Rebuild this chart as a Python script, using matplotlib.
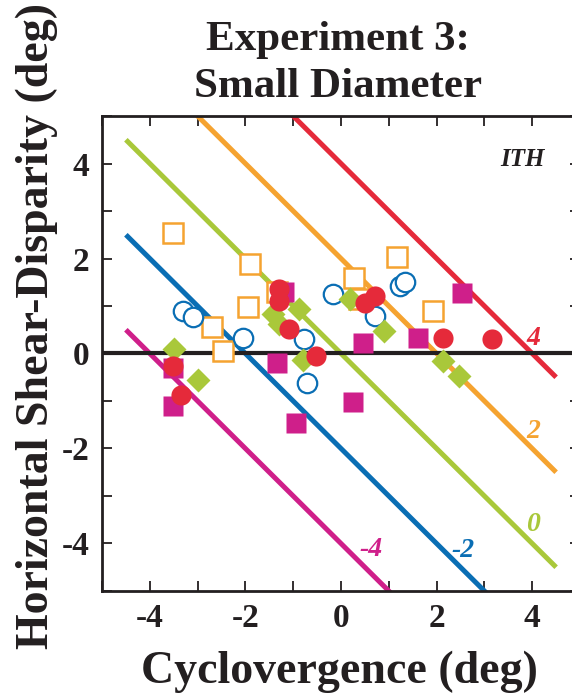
import matplotlib
matplotlib.use("Agg")
import matplotlib.pyplot as plt
from matplotlib.ticker import MultipleLocator

plt.rcParams['font.family'] = ['Liberation Serif', 'DejaVu Serif']
plt.rcParams['font.weight'] = 'bold'

# iso-torsion lines: y = c - x
line_levels = [-4, -2, 0, 2, 4]
line_colors = ['#cf1f8a', '#0a6eb4', '#a9c83a', '#f5a330', '#e52a3a']
line_label_x = [0.62, 2.56, 4.02, 4.02, 4.03]
line_label_y = [-4.13, -4.15, -3.60, -1.65, 0.31]

# data (deg)
orange_x = [-3.52, -1.91, -1.95, -2.70, -2.47, -1.33, 0.28, 0.37, 1.18, 1.93]
orange_y = [2.53, 1.88, 0.98, 0.56, 0.06, 1.30, 1.59, 1.15, 2.03, 0.90]

blue_x = [-3.31, -3.10, -2.06, -0.78, -0.72, -0.16, 0.72, 1.24, 1.33]
blue_y = [0.90, 0.77, 0.33, 0.31, -0.63, 1.25, 0.79, 1.42, 1.50]

green_x = [-3.50, -3.00, -1.43, -1.30, -0.87, -0.80, 0.18, 0.89, 2.14, 2.47]
green_y = [0.10, -0.56, 0.84, 0.63, 0.94, -0.13, 1.15, 0.48, -0.15, -0.48]

magenta_x = [-3.52, -3.52, -1.20, -1.33, -0.95, 0.26, 0.47, 1.62, 2.54]
magenta_y = [-0.31, -1.11, 1.29, -0.19, -1.46, -1.02, 0.23, 0.33, 1.27]

red_x = [-3.52, -3.35, -1.30, -1.30, -1.08, -0.53, 0.51, 0.72, 2.14, 3.16]
red_y = [-0.27, -0.88, 1.36, 1.11, 0.52, -0.06, 1.06, 1.21, 0.33, 0.31]

tick_vals = [-4, -2, 0, 2, 4]
tick_labels = ['-4', '-2', '0', '2', '4']

fig = plt.figure(figsize=(5.72, 6.93), dpi=100)
ax = fig.add_axes([0.1783, 0.1472, 0.8357, 0.6854])

for c, col in zip(line_levels, line_colors):
    ax.plot([-4.5, 4.5], [c + 4.5, c - 4.5], color=col, lw=3.6,
            solid_capstyle='butt', zorder=2)
for c, col, lx, ly in zip(line_levels, line_colors, line_label_x, line_label_y):
    ax.text(lx, ly, str(c), color=col, fontsize=20, style='italic',
            fontweight='bold', ha='center', va='center', zorder=6)

ax.axhline(0, color='#231f20', lw=3, zorder=3)

ax.plot(orange_x, orange_y, 's', ms=14, mfc='white', mec='#f5a330',
        mew=1.8, zorder=4)
ax.plot(blue_x, blue_y, 'o', ms=14, mfc='white', mec='#0a6eb4',
        mew=1.6, zorder=4)
ax.plot(green_x, green_y, 'D', ms=12.5, color='#a9c83a', mec='none', zorder=4)
ax.plot(magenta_x, magenta_y, 's', ms=14.5, color='#cf1f8a', mec='none', zorder=5)
ax.plot(red_x, red_y, 'o', ms=14.5, color='#e52a3a', mec='none', zorder=5)

ax.text(3.79, 4.09, 'ITH', fontsize=18, style='italic', fontweight='bold',
        color='#231f20', ha='center', va='center')

ax.set_xlim(-5, 5)
ax.set_ylim(-5, 5)
ax.set_xticks(tick_vals)
ax.set_xticklabels(tick_labels)
ax.set_yticks(tick_vals)
ax.set_yticklabels(tick_labels)
ax.xaxis.set_minor_locator(MultipleLocator(1))
ax.yaxis.set_minor_locator(MultipleLocator(1))
ax.tick_params(which='both', direction='in', length=7.5, width=1.3,
               top=True, right=True, colors='#231f20')
ax.tick_params(which='major', labelsize=24, pad=9)
for sp in ax.spines.values():
    sp.set_linewidth(2)
    sp.set_color('#231f20')

fig.text(0.591, 0.928, 'Experiment 3:', fontsize=31, fontweight='bold',
         ha='center', va='baseline', color='#231f20')
fig.text(0.591, 0.86, 'Small Diameter', fontsize=31, fontweight='bold',
         ha='center', va='baseline', color='#231f20')
fig.text(0.594, 0.015, 'Cyclovergence (deg)', fontsize=33, fontweight='bold',
         ha='center', va='baseline', color='#231f20')
fig.text(0.065, 0.53, 'Horizontal Shear-Disparity (deg)', fontsize=33,
         fontweight='bold', rotation=90, ha='center', va='center',
         color='#231f20')

fig.savefig('out.png', dpi=100)
